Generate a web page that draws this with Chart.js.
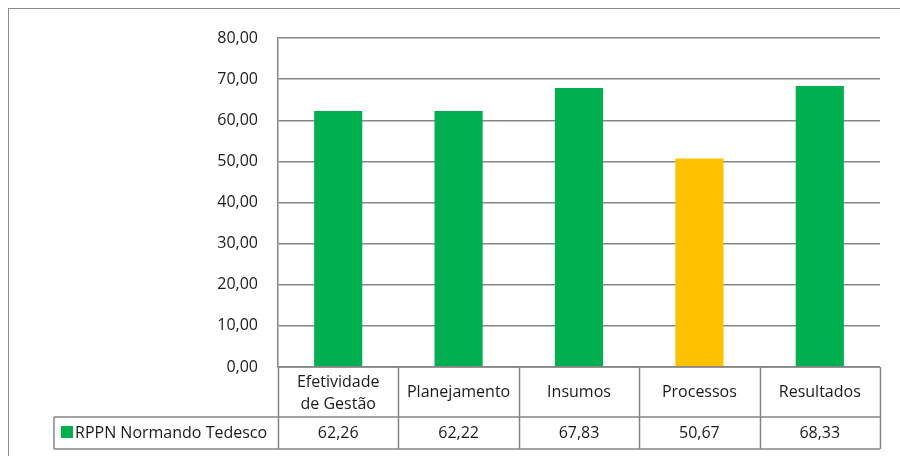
<!DOCTYPE html>
<html>
<head>
<meta charset="utf-8">
<script src="https://cdn.jsdelivr.net/npm/chart.js@4"></script>
<style>
  body { margin: 0; background: #fff; }
  #wrap { width: 900px; height: 456px; position: relative; }
</style>
</head>
<body>
<div id="wrap"><canvas id="myChart" width="900" height="456"></canvas></div>
<script>
// data
var categories = [['Efetividade', 'de Gestão'], 'Planejamento', 'Insumos', 'Processos', 'Resultados'];
var seriesName = 'RPPN Normando Tedesco';
var values = [62.26, 62.22, 67.83, 50.67, 68.33];
var barColors = ['#00B050', '#00B050', '#00B050', '#FFC000', '#00B050'];
var yTicks = [0, 10, 20, 30, 40, 50, 60, 70, 80];

var fontName = '"Open Sans"';
var fontSize = 16;
var lineGray = '#868686';

function fmt(v) {
  return v.toFixed(2).replace('.', ',');
}

// draws the data table under the plot + the outer frame
var tablePlugin = {
  id: 'dataTable',
  afterDraw: function (chart) {
    var ctx = chart.ctx;
    var area = chart.chartArea;
    var xs = chart.scales.x;
    var n = categories.length;
    var step = (area.right - area.left) / n;
    var headBottom = area.bottom + 50;
    var rowBottom = headBottom + 32;
    var legendLeft = 54;

    ctx.save();
    ctx.strokeStyle = lineGray;
    ctx.lineWidth = 1.5;
    ctx.beginPath();
    // horizontal lines
    ctx.moveTo(area.left, area.bottom); ctx.lineTo(area.right, area.bottom);
    ctx.moveTo(legendLeft, headBottom); ctx.lineTo(area.right, headBottom);
    ctx.moveTo(legendLeft, rowBottom); ctx.lineTo(area.right, rowBottom);
    // vertical lines
    ctx.moveTo(legendLeft, headBottom); ctx.lineTo(legendLeft, rowBottom);
    for (var i = 0; i <= n; i++) {
      var x = Math.round(area.left + step * i) + 0.5;
      ctx.moveTo(x, area.bottom); ctx.lineTo(x, rowBottom);
    }
    ctx.stroke();

    ctx.fillStyle = '#1a1a1a';
    ctx.font = fontSize + 'px ' + fontName;
    ctx.textAlign = 'center';
    ctx.textBaseline = 'middle';
    for (var j = 0; j < n; j++) {
      var cx = xs.getPixelForValue(j);
      var lab = categories[j];
      if (Array.isArray(lab)) {
        ctx.fillText(lab[0], cx, area.bottom + 15);
        ctx.fillText(lab[1], cx, area.bottom + 37);
      } else {
        ctx.fillText(lab, cx, area.bottom + 25);
      }
      ctx.fillText(fmt(values[j]), cx, headBottom + 16);
    }

    // legend key
    ctx.fillStyle = '#00B050';
    ctx.fillRect(61, headBottom + 9, 12, 12);
    ctx.fillStyle = '#1a1a1a';
    ctx.textAlign = 'left';
    ctx.fillText(seriesName, 75, headBottom + 16);

    // outer frame
    ctx.strokeStyle = '#8c8c8c';
    ctx.lineWidth = 1;
    ctx.strokeRect(8.5, 8.5, 1000, 1000);
    ctx.restore();
  }
};

const ctxi = document.getElementById('myChart');

var barChart = new Chart(ctxi, {
  type: 'bar',
  data: {
    labels: categories,
    datasets: [{
      label: seriesName,
      data: values,
      backgroundColor: barColors,
      barPercentage: 0.8,
      categoryPercentage: 0.5
    }]
  },
  options: {
    responsive: false,
    animation: false,
    layout: { padding: { left: 0, top: 38, right: 20, bottom: 81 } },
    plugins: {
      legend: { display: false },
      tooltip: { enabled: false }
    },
    scales: {
      x: {
        grid: { display: false },
        border: { display: false },
        ticks: { display: false }
      },
      y: {
        min: 0,
        max: 80,
        afterFit: function (s) { s.width = 278; },
        afterBuildTicks: function (s) { s.ticks = yTicks.map(function (v) { return { value: v }; }); },
        grid: { color: lineGray, lineWidth: 1.5, drawTicks: false },
        border: { display: true, color: lineGray, width: 1.5 },
        ticks: {
          padding: 20,
          color: '#1a1a1a',
          font: { family: fontName, size: fontSize },
          callback: function (v) { return fmt(v); }
        }
      }
    }
  },
  plugins: [tablePlugin]
});
</script>
</body>
</html>
